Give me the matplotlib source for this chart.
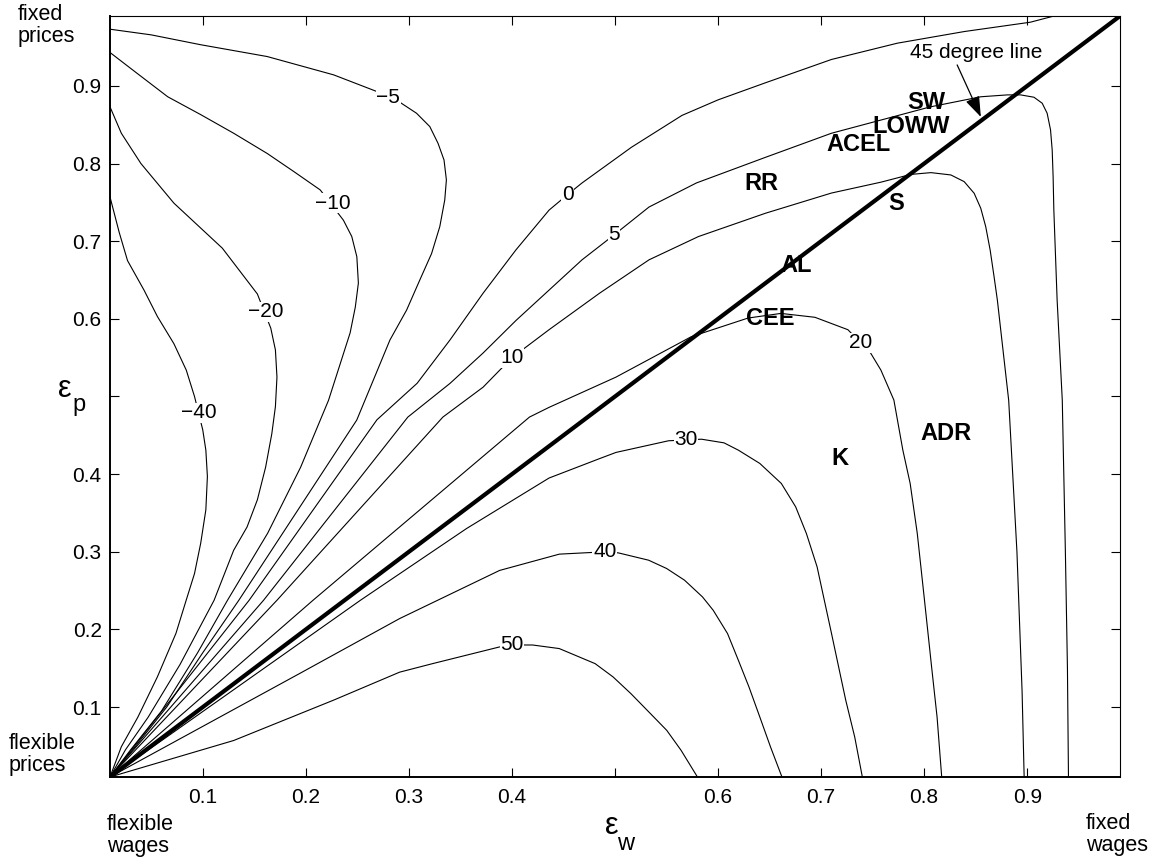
import matplotlib
matplotlib.use("Agg")
import matplotlib.pyplot as plt

plt.rcParams['font.family'] = ['Liberation Sans', 'DejaVu Sans']

# ---------- data: contour lines (eps_w, eps_p) ----------
levels = ["\u221240", "\u221220", "\u221210", "\u22125", "0", "5", "10", "20", "30", "40", "50"]

c_m40_w = [0.01, 0.019, 0.027, 0.043, 0.056, 0.072, 0.084, 0.092, 0.100, 0.103, 0.1045, 0.103, 0.098, 0.092, 0.084, 0.074, 0.056, 0.037, 0.021, 0.01]
c_m40_p = [0.757, 0.711, 0.675, 0.637, 0.603, 0.568, 0.534, 0.500, 0.457, 0.431, 0.397, 0.354, 0.311, 0.272, 0.238, 0.195, 0.139, 0.087, 0.049, 0.01]

c_m20_w = [0.01, 0.021, 0.040, 0.072, 0.119, 0.153, 0.166, 0.1705, 0.172, 0.1705, 0.167, 0.161, 0.153, 0.143, 0.130, 0.111, 0.078, 0.047, 0.025, 0.01]
c_m20_p = [0.873, 0.839, 0.800, 0.749, 0.691, 0.632, 0.588, 0.560, 0.525, 0.487, 0.452, 0.409, 0.367, 0.332, 0.302, 0.2376, 0.155, 0.087, 0.045, 0.01]

c_m10_w = [0.01, 0.034, 0.066, 0.098, 0.130, 0.1625, 0.188, 0.214, 0.2365, 0.2446, 0.2495, 0.251, 0.248, 0.243, 0.222, 0.195, 0.163, 0.124, 0.095, 0.060, 0.030, 0.01]
c_m10_p = [0.943, 0.9185, 0.886, 0.863, 0.839, 0.813, 0.790, 0.766, 0.727, 0.706, 0.680, 0.646, 0.615, 0.582, 0.495, 0.409, 0.324, 0.2376, 0.170, 0.095, 0.045, 0.01]

c_m5_w = [0.01, 0.050, 0.098, 0.1625, 0.227, 0.269, 0.290, 0.3074, 0.3203, 0.3283, 0.3341, 0.3364, 0.3348, 0.330, 0.322, 0.3106, 0.2978, 0.2816, 0.2655, 0.2494, 0.135, 0.100, 0.065, 0.035, 0.01]
c_m5_p = [0.973, 0.9657, 0.953, 0.9378, 0.9142, 0.8927, 0.880, 0.8648, 0.8476, 0.826, 0.8046, 0.7789, 0.753, 0.7188, 0.684, 0.650, 0.6113, 0.5727, 0.5211, 0.4696, 0.2376, 0.170, 0.100, 0.050, 0.01]

c_0_w = [0.01, 0.145, 0.269, 0.308, 0.340, 0.372, 0.404, 0.436, 0.454, 0.468, 0.516, 0.565, 0.600, 0.646, 0.710, 0.774, 0.839, 0.903, 0.926]
c_0_p = [0.01, 0.2376, 0.470, 0.517, 0.573, 0.633, 0.689, 0.740, 0.760, 0.775, 0.821, 0.862, 0.882, 0.904, 0.934, 0.955, 0.970, 0.982, 0.990]

c_5_w = [0.01, 0.159, 0.299, 0.340, 0.372, 0.404, 0.436, 0.468, 0.499, 0.533, 0.579, 0.646, 0.710, 0.758, 0.806, 0.855, 0.8807, 0.8936, 0.9065, 0.9145, 0.9193, 0.9226, 0.9242, 0.9251, 0.9258, 0.929, 0.934, 0.937, 0.939, 0.940]
c_5_p = [0.01, 0.2376, 0.4735, 0.517, 0.556, 0.598, 0.637, 0.676, 0.708, 0.744, 0.775, 0.808, 0.839, 0.856, 0.873, 0.886, 0.8884, 0.8884, 0.8854, 0.8777, 0.8648, 0.8433, 0.8175, 0.7832, 0.7402, 0.624, 0.495, 0.300, 0.150, 0.01]

c_10_w = [0.01, 0.172, 0.333, 0.372, 0.400, 0.436, 0.485, 0.533, 0.581, 0.646, 0.710, 0.758, 0.787, 0.8066, 0.8259, 0.8388, 0.8485, 0.8549, 0.8597, 0.864, 0.8678, 0.871, 0.882, 0.890, 0.895, 0.897]
c_10_p = [0.01, 0.2376, 0.4735, 0.512, 0.550, 0.586, 0.633, 0.676, 0.706, 0.736, 0.762, 0.776, 0.786, 0.7883, 0.7853, 0.7767, 0.7617, 0.7424, 0.7188, 0.6887, 0.6544, 0.6242, 0.495, 0.300, 0.120, 0.01]

c_20_w = [0.01, 0.207, 0.417, 0.436, 0.501, 0.574, 0.629, 0.661, 0.694, 0.726, 0.748, 0.758, 0.7706, 0.7793, 0.7864, 0.7933, 0.8003, 0.8072, 0.8125, 0.817]
c_20_p = [0.01, 0.2376, 0.4735, 0.486, 0.525, 0.577, 0.601, 0.607, 0.602, 0.586, 0.556, 0.534, 0.4954, 0.4309, 0.388, 0.3236, 0.2376, 0.1517, 0.0873, 0.01]

c_30_w = [0.01, 0.253, 0.356, 0.436, 0.485, 0.501, 0.552, 0.584, 0.6058, 0.6197, 0.6405, 0.6614, 0.6753, 0.6857, 0.6961, 0.7031, 0.7101, 0.717, 0.7239, 0.7326, 0.740]
c_30_p = [0.01, 0.2376, 0.330, 0.395, 0.420, 0.428, 0.443, 0.445, 0.4403, 0.4309, 0.4138, 0.388, 0.3579, 0.3236, 0.2806, 0.2376, 0.1947, 0.1517, 0.1088, 0.0615, 0.01]

c_40_w = [0.01, 0.195, 0.291, 0.388, 0.446, 0.490, 0.5033, 0.5326, 0.5501, 0.5675, 0.5849, 0.5953, 0.6092, 0.6197, 0.630, 0.6405, 0.6509, 0.662]
c_40_p = [0.01, 0.144, 0.214, 0.276, 0.297, 0.300, 0.2986, 0.2892, 0.2785, 0.2634, 0.2419, 0.2247, 0.1947, 0.1603, 0.1259, 0.0873, 0.0487, 0.01]

c_50_w = [0.01, 0.130, 0.227, 0.291, 0.323, 0.388, 0.400, 0.420, 0.4459, 0.4807, 0.4981, 0.5154, 0.5328, 0.5502, 0.5641, 0.580]
c_50_p = [0.01, 0.057, 0.109, 0.145, 0.156, 0.1775, 0.180, 0.180, 0.1754, 0.156, 0.1389, 0.1174, 0.0938, 0.0701, 0.0444, 0.01]

# where each contour label sits
label_w = [0.096, 0.161, 0.226, 0.280, 0.454, 0.499, 0.400, 0.738, 0.569, 0.490, 0.400]
label_p = [0.479, 0.609, 0.749, 0.885, 0.760, 0.708, 0.550, 0.569, 0.444, 0.300, 0.180]

# model names and their positions
models = ["SW", "LOWW", "ACEL", "RR", "S", "AL", "CEE", "K", "ADR"]
model_w = [0.802, 0.787, 0.736, 0.642, 0.773, 0.676, 0.651, 0.718, 0.821]
model_p = [0.879, 0.848, 0.825, 0.774, 0.748, 0.669, 0.601, 0.420, 0.452]

ticks = [0.1, 0.2, 0.3, 0.4, 0.5, 0.6, 0.7, 0.8, 0.9]
tick_labels = ["0.1", "0.2", "0.3", "0.4", "", "0.6", "0.7", "0.8", "0.9"]

contours = [(c_m40_w, c_m40_p), (c_m20_w, c_m20_p), (c_m10_w, c_m10_p), (c_m5_w, c_m5_p),
            (c_0_w, c_0_p), (c_5_w, c_5_p), (c_10_w, c_10_p), (c_20_w, c_20_p),
            (c_30_w, c_30_p), (c_40_w, c_40_p), (c_50_w, c_50_p)]

# ---------- figure ----------
W, H = 1164, 863
fig = plt.figure(figsize=(W / 100, H / 100), dpi=100)
ax = fig.add_axes([110 / W, 1 - 777 / H, (1120 - 110) / W, (777 - 16) / H])

for cw, cp in contours:
    ax.plot(cw, cp, color="black", lw=0.8, solid_joinstyle="round")

# 45 degree line
ax.plot([0.01, 0.99], [0.01, 0.99], color="black", lw=3.0, solid_capstyle="butt")

for lab, x, y in zip(levels, label_w, label_p):
    ax.text(x, y, lab, fontsize=15, ha="center", va="center",
            bbox=dict(facecolor="white", edgecolor="none", pad=0.5))

for name, x, y in zip(models, model_w, model_p):
    ax.text(x, y, name, fontsize=17, fontweight="bold", ha="center", va="center")

ax.annotate("", xy=(0.855, 0.860), xytext=(0.832, 0.927),
            arrowprops=dict(arrowstyle="-|>,head_length=0.7,head_width=0.25",
                            color="black", lw=0.9, mutation_scale=18, shrinkA=0, shrinkB=0))
ax.text(0.850, 0.943, "45 degree line", fontsize=15, ha="center", va="center")

ax.set_xlim(0.01, 0.99)
ax.set_ylim(0.01, 0.99)
ax.set_xticks(ticks)
ax.set_xticklabels(tick_labels)
ax.set_yticks(ticks)
ax.set_yticklabels(tick_labels)
ax.tick_params(direction="in", length=6.5, width=0.8, top=True, right=True, labelsize=15)
ax.tick_params(axis="x", pad=8)
ax.tick_params(axis="y", pad=6)
for side in ["left", "bottom"]:
    ax.spines[side].set_linewidth(1.4)
for side in ["top", "right"]:
    ax.spines[side].set_linewidth(0.8)

# axis names and corner notes
fig.text(612 / W, 1 - 826 / H, "\u03b5", fontsize=22, ha="center", va="center")
fig.text(626 / W, 1 - 844 / H, "w", fontsize=17, ha="center", va="center")
fig.text(65 / W, 1 - 389 / H, "\u03b5", fontsize=22, ha="center", va="center")
fig.text(79 / W, 1 - 405 / H, "p", fontsize=17, ha="center", va="center")

fig.text(18 / W, 1 - 4 / H, "fixed\nprices", fontsize=15.5, ha="left", va="top", linespacing=1.05)
fig.text(9 / W, 1 - 733 / H, "flexible\nprices", fontsize=15.5, ha="left", va="top", linespacing=1.05)
fig.text(107 / W, 1 - 814 / H, "flexible\nwages", fontsize=15.5, ha="left", va="top", linespacing=1.05)
fig.text(1086 / W, 1 - 813 / H, "fixed\nwages", fontsize=15.5, ha="left", va="top", linespacing=1.05)

fig.savefig("out.png", dpi=100)
